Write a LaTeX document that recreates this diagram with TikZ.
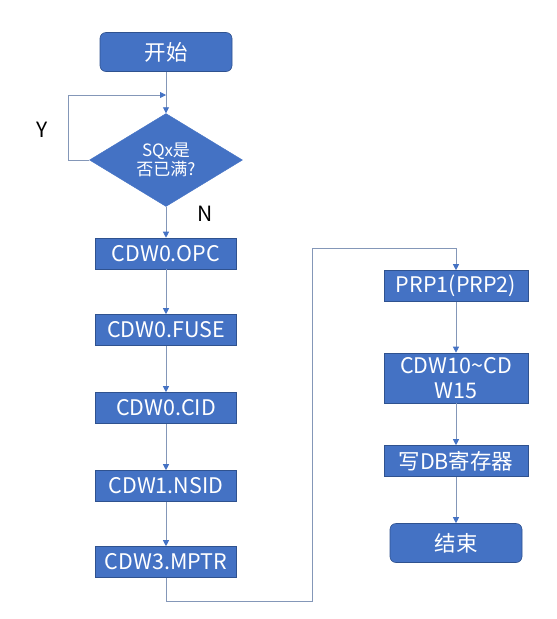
\documentclass[tikz,border=0pt]{standalone}
\usepackage{fontspec}
\setmainfont{Noto Sans CJK SC}
\usetikzlibrary{shapes.geometric,arrows.meta}
\definecolor{boxblue}{HTML}{4472C4}
\definecolor{boxedge}{HTML}{2F528F}
\definecolor{linegray}{HTML}{8497B8}
\begin{document}
\begin{tikzpicture}[x=1pt,y=-1pt]
  \tikzstyle{block}=[rectangle,draw=boxedge,fill=boxblue,text=white,line width=0.6pt,
    minimum width=141pt,minimum height=31pt,inner sep=0pt,font=\fontsize{21.5}{24}\selectfont]
  \tikzstyle{term}=[block,rounded corners=6pt,minimum width=132pt,minimum height=39pt]
  \tikzstyle{decision}=[diamond,draw=boxblue,fill=boxblue,text=white,inner sep=0pt,
    minimum width=153pt,minimum height=70pt,align=center,font=\fontsize{17}{19}\selectfont]
  \tikzstyle{label}=[font=\fontsize{21}{24}\selectfont]
  \tikzstyle{line}=[draw=linegray,line width=0.8pt,-{Triangle[length=6pt,width=6pt,fill=boxblue,color=boxblue]}]
  \useasboundingbox (0,0) rectangle (557,619);
  \node[term] (start) at (166,52) {开始};
  \node[decision] (full) at (166,160) {SQx是\\否已满?};
  \node[block] (opc) at (166,253.5) {CDW0.OPC};
  \node[block] (fuse) at (166,330) {CDW0.FUSE};
  \node[block] (cid) at (166,408) {CDW0.CID};
  \node[block] (nsid) at (166,486) {CDW1.NSID};
  \node[block] (mptr) at (166,562) {CDW3.MPTR};

  \node[block,minimum width=144pt] (prp) at (456,286) {PRP1(PRP2)};
  \node[block,minimum width=144pt,minimum height=50pt,align=center,
    font=\fontsize{21.5}{25}\selectfont] (cdw) at (456,378) {CDW10\textasciitilde CD\\W15};
  \node[block,minimum width=144pt] (db) at (456,461) {写DB寄存器};
  \node[term] (stop) at (456,543) {结束};

  \node[label] (ylabel) at (42,130) {Y};
  \node[label] (nlabel) at (205,214) {N};
  % loop back
  \coordinate (loopl) at (68,95);
  \coordinate (loop) at (166,95);
  % jump to right column
  \coordinate (b1) at (312,601);
  \coordinate (b2) at (312,248);

  \draw[line] (start) -- (full);
  \draw[line] (full.west) -| (loopl) -- (loop);
  \draw[line] (full) -- (opc);
  \draw[line] (opc) -- (fuse);
  \draw[line] (fuse) -- (cid);
  \draw[line] (cid) -- (nsid);
  \draw[line] (nsid) -- (mptr);
  \draw[line] (mptr.south) |- (b1) -- (b2) -| (prp.north);
  \draw[line] (prp) -- (cdw);
  \draw[line] (cdw) -- (db);
  \draw[line] (db) -- (stop);
\end{tikzpicture}
\end{document}
